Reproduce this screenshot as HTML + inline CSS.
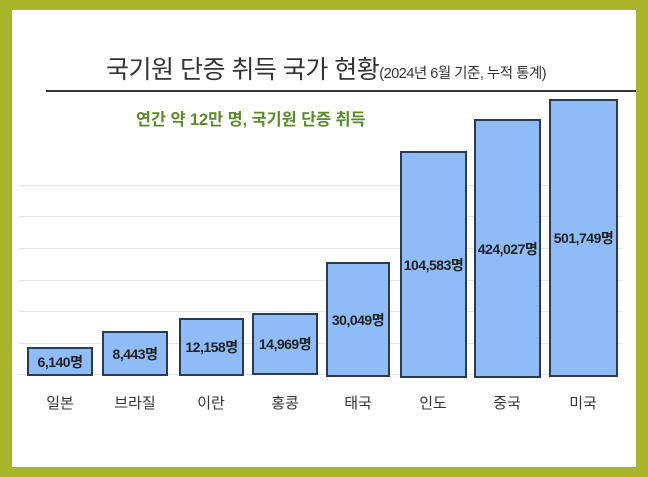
<!DOCTYPE html><html><head><meta charset="utf-8"><style>
body{margin:0;width:648px;height:477px;background:#a6b628;position:relative;overflow:hidden;font-family:"Liberation Sans","Noto Sans CJK KR",sans-serif}
#w{position:absolute;left:12px;top:10px;width:624px;height:457px;background:#fff}
.t{position:absolute;white-space:nowrap}
.g{position:absolute;left:18px;width:604px;height:1px;background:#e6e6e6}
.b{position:absolute;background:#8fbcf7;border:2px solid #2b3a4d;box-sizing:border-box;display:flex;align-items:center;justify-content:center;font-weight:bold;font-size:14px;color:#222;letter-spacing:-0.5px}
.l{position:absolute;top:392px;font-size:15px;color:#333;text-align:center;width:80px}
</style></head><body><div id="w"></div>
<div class="t" style="left:106px;top:50px;font-size:25px;color:#333;letter-spacing:-0.5px">국기원 단증 취득 국가 현황<span style="font-size:14.5px">(2024년 6월 기준, 누적 통계)</span></div>
<div style="position:absolute;left:46px;top:90px;width:590px;height:2px;background:#333"></div>
<div class="t" style="left:136px;top:106px;font-size:16.3px;font-weight:bold;color:#5a8a2a">연간 약 12만 명, 국기원 단증 취득</div>
<div class="g" style="top:185px"></div><div class="g" style="top:216px"></div><div class="g" style="top:248px"></div><div class="g" style="top:280px"></div><div class="g" style="top:311px"></div><div class="g" style="top:343px"></div><div class="g" style="top:374px"></div>
<div class="b" style="left:27px;top:347px;width:66px;height:29px">6,140명</div>
<div class="b" style="left:102px;top:331px;width:66px;height:45px">8,443명</div>
<div class="b" style="left:179px;top:318px;width:65px;height:58px">12,158명</div>
<div class="b" style="left:252px;top:313px;width:66px;height:62px">14,969명</div>
<div class="b" style="left:326px;top:262px;width:64px;height:115px;align-items:flex-start;padding-top:46px">30,049명</div>
<div class="b" style="left:400px;top:151px;width:67px;height:227px">104,583명</div>
<div class="b" style="left:474px;top:119px;width:67px;height:259px">424,027명</div>
<div class="b" style="left:549px;top:99px;width:69px;height:278px">501,749명</div>
<div class="l" style="left:20px">일본</div><div class="l" style="left:95px">브라질</div><div class="l" style="left:171px">이란</div><div class="l" style="left:245px">홍콩</div><div class="l" style="left:318px">태국</div><div class="l" style="left:393px">인도</div><div class="l" style="left:467px">중국</div><div class="l" style="left:543px">미국</div>
</body></html>
